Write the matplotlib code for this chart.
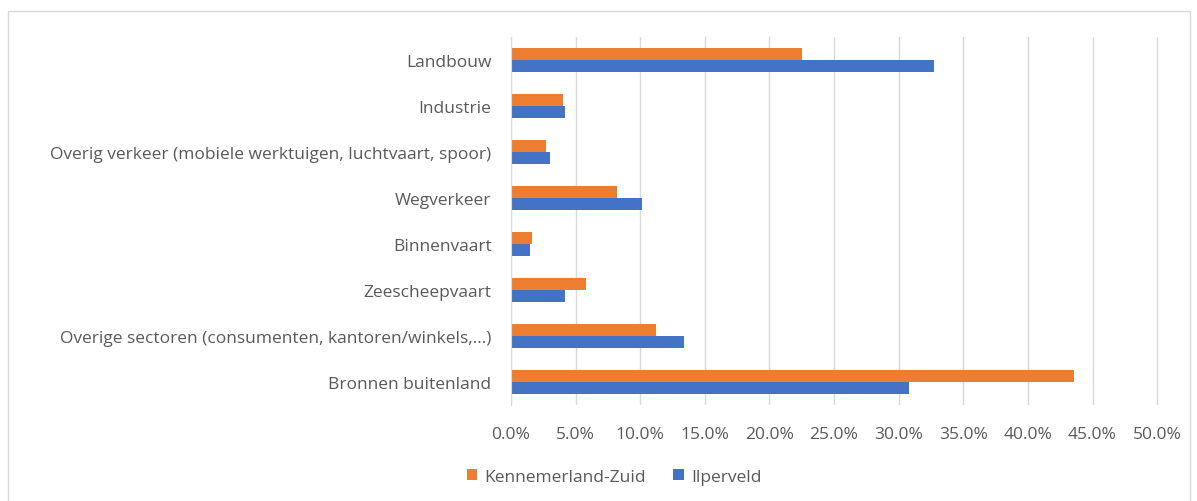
import matplotlib.pyplot as plt
import numpy as np
from matplotlib.patches import Rectangle
from matplotlib.ticker import PercentFormatter

categories = ["Landbouw", "Industrie",
              "Overig verkeer (mobiele werktuigen, luchtvaart, spoor)",
              "Wegverkeer", "Binnenvaart", "Zeescheepvaart",
              "Overige sectoren (consumenten, kantoren/winkels,...)",
              "Bronnen buitenland"]
kennemerland = [22.5, 4.05, 2.7, 8.2, 1.65, 5.8, 11.25, 43.6]
ijperveld = [32.7, 4.2, 3.0, 10.1, 1.5, 4.2, 13.4, 30.8]
xticks = [0, 5, 10, 15, 20, 25, 30, 35, 40, 45, 50]

plt.rcParams['font.family'] = ['Open Sans', 'DejaVu Sans']
text_color = "#595959"

fig = plt.figure(figsize=(11.97, 5.02), dpi=100)
fig.patches.append(Rectangle((8 / 1197, -0.01), 1182 / 1197, 1 - 12 / 502 + 0.01,
                             transform=fig.transFigure, fill=False,
                             edgecolor="#D9D9D9", linewidth=1))
ax = fig.add_axes([511 / 1197, 1 - 406 / 502, 650 / 1197, 368 / 502])

y = np.arange(len(categories))
h = 0.26
ax.barh(y - h / 2, kennemerland, height=h, color="#ED7D31", label="Kennemerland-Zuid")
ax.barh(y + h / 2, ijperveld, height=h, color="#4472C4", label="Ilperveld")

ax.set_ylim(len(categories) - 0.5, -0.5)
ax.set_xlim(0, 50.3)
ax.set_xticks(xticks)
ax.xaxis.set_major_formatter(PercentFormatter(decimals=1))
ax.set_yticks(y)
ax.set_yticklabels(categories)
ax.tick_params(axis="both", length=0, labelsize=12.5, labelcolor=text_color)
ax.tick_params(axis="x", pad=15)
ax.tick_params(axis="y", pad=14)
ax.grid(axis="x", color="#D9D9D9", linewidth=1)
ax.set_axisbelow(True)
for s in ["top", "right", "bottom"]:
    ax.spines[s].set_visible(False)
ax.spines["left"].set_color("#D9D9D9")

fig.legend(loc="center", bbox_to_anchor=(614 / 1197, 1 - 478 / 502), ncol=2,
           frameon=False, fontsize=12.5, labelcolor=text_color,
           handlelength=0.6, handleheight=0.6, columnspacing=1.6, handletextpad=0.4)

fig.savefig("out.png", dpi=100)
